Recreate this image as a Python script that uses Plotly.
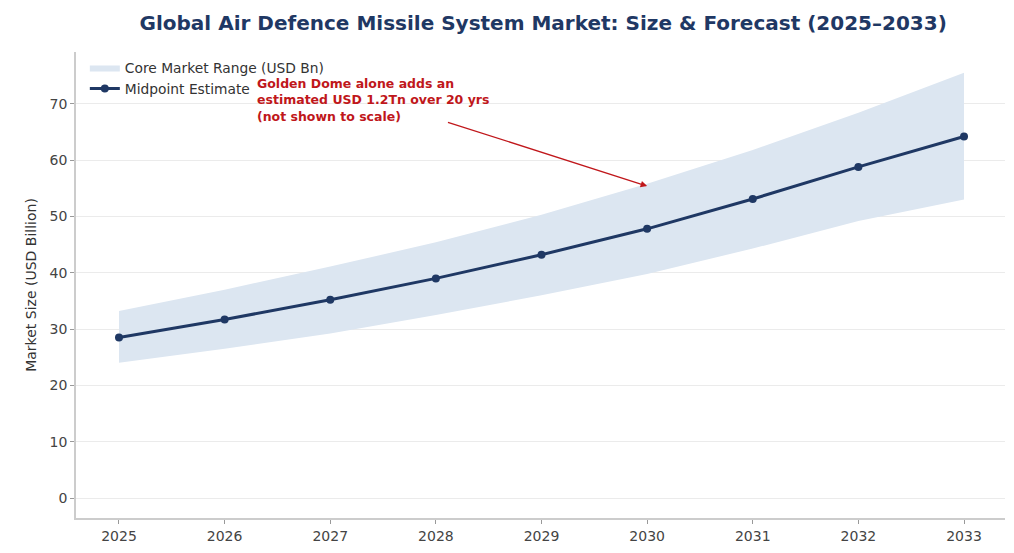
import plotly.graph_objects as go

# market data (USD billion)
years = [2025, 2026, 2027, 2028, 2029, 2030, 2031, 2032, 2033]
midpoint = [28.5, 31.7, 35.2, 39.0, 43.2, 47.8, 53.1, 58.8, 64.2]
upper = [33.2, 37.0, 41.1, 45.4, 50.3, 55.8, 61.8, 68.4, 75.5]
lower = [24.0, 26.5, 29.2, 32.5, 36.0, 39.8, 44.3, 49.2, 53.0]
y_ticks = [0, 10, 20, 30, 40, 50, 60, 70]

NAVY = "#1f3864"
BAND = "#dce6f1"
RED = "#c0171b"
FONT = "DejaVu Sans"

fig = go.Figure()

# lower edge of the band (hidden)
fig.add_trace(go.Scatter(
    x=years, y=lower, mode="lines",
    line=dict(width=0, color=BAND),
    showlegend=False, hoverinfo="skip"
))
# upper edge, filled down to the lower edge
fig.add_trace(go.Scatter(
    x=years, y=upper, mode="lines",
    line=dict(width=0, color=BAND),
    fill="tonexty", fillcolor=BAND,
    name="Core Market Range (USD Bn)", legendrank=1
))
# midpoint line
fig.add_trace(go.Scatter(
    x=years, y=midpoint, mode="lines+markers",
    line=dict(color=NAVY, width=3),
    marker=dict(color=NAVY, size=8),
    name="Midpoint Estimate", legendrank=2
))

# arrow pointing at the 2030 upper edge
fig.add_annotation(
    x=2030, y=55.4, ax=2028.1, ay=66.8,
    xref="x", yref="y", axref="x", ayref="y",
    text="", showarrow=True,
    arrowhead=2, arrowsize=1, arrowwidth=1.3, arrowcolor=RED
)
fig.add_annotation(
    x=2026.29, y=75.3, xref="x", yref="y",
    xanchor="left", yanchor="top", align="left",
    text="<b>Golden Dome alone adds an<br>estimated USD 1.2Tn over 20 yrs<br>(not shown to scale)</b>",
    showarrow=False,
    font=dict(family=FONT, size=12.5, color=RED)
)

# the page puts the figure 8px in from the top-left corner
fig.update_layout(
    width=1006, height=545,
    margin=dict(l=68, r=9, t=44, b=29),
    paper_bgcolor="white", plot_bgcolor="white",
    font=dict(family=FONT, size=14, color="#333333"),
    title=dict(
        text="<b>Global Air Defence Missile System Market: Size &amp; Forecast (2025\u20132033)</b>",
        x=0.532, xanchor="center", y=0.973, yanchor="middle",
        font=dict(family=FONT, size=20, color=NAVY)
    ),
    legend=dict(
        x=0.0095, y=1.0, xanchor="left", yanchor="top",
        bgcolor="rgba(255,255,255,0)",
        font=dict(family=FONT, size=13.8, color="#333333"),
        tracegroupgap=0, traceorder="normal"
    ),
    showlegend=True
)

fig.update_xaxes(
    range=[2024.593, 2033.388],
    tickmode="array", tickvals=years, ticktext=[str(y) for y in years],
    showgrid=False, zeroline=False,
    showline=True, linecolor="#cccccc", linewidth=1.5,
    ticks="outside", ticklen=4, tickcolor="#999999",
    tickfont=dict(size=14, color="#444444")
)
fig.update_yaxes(
    range=[-3.55, 79.2],
    tickmode="array", tickvals=y_ticks,
    showgrid=True, gridcolor="#ebebeb", gridwidth=1,
    zeroline=False,
    showline=True, linecolor="#cccccc", linewidth=1.5,
    ticks="outside", ticklen=4, tickcolor="#999999",
    tickfont=dict(size=14, color="#444444"),
    title=dict(text="Market Size (USD Billion)", standoff=10,
               font=dict(size=14, color="#333333"))
)

fig.write_html("out.html")
